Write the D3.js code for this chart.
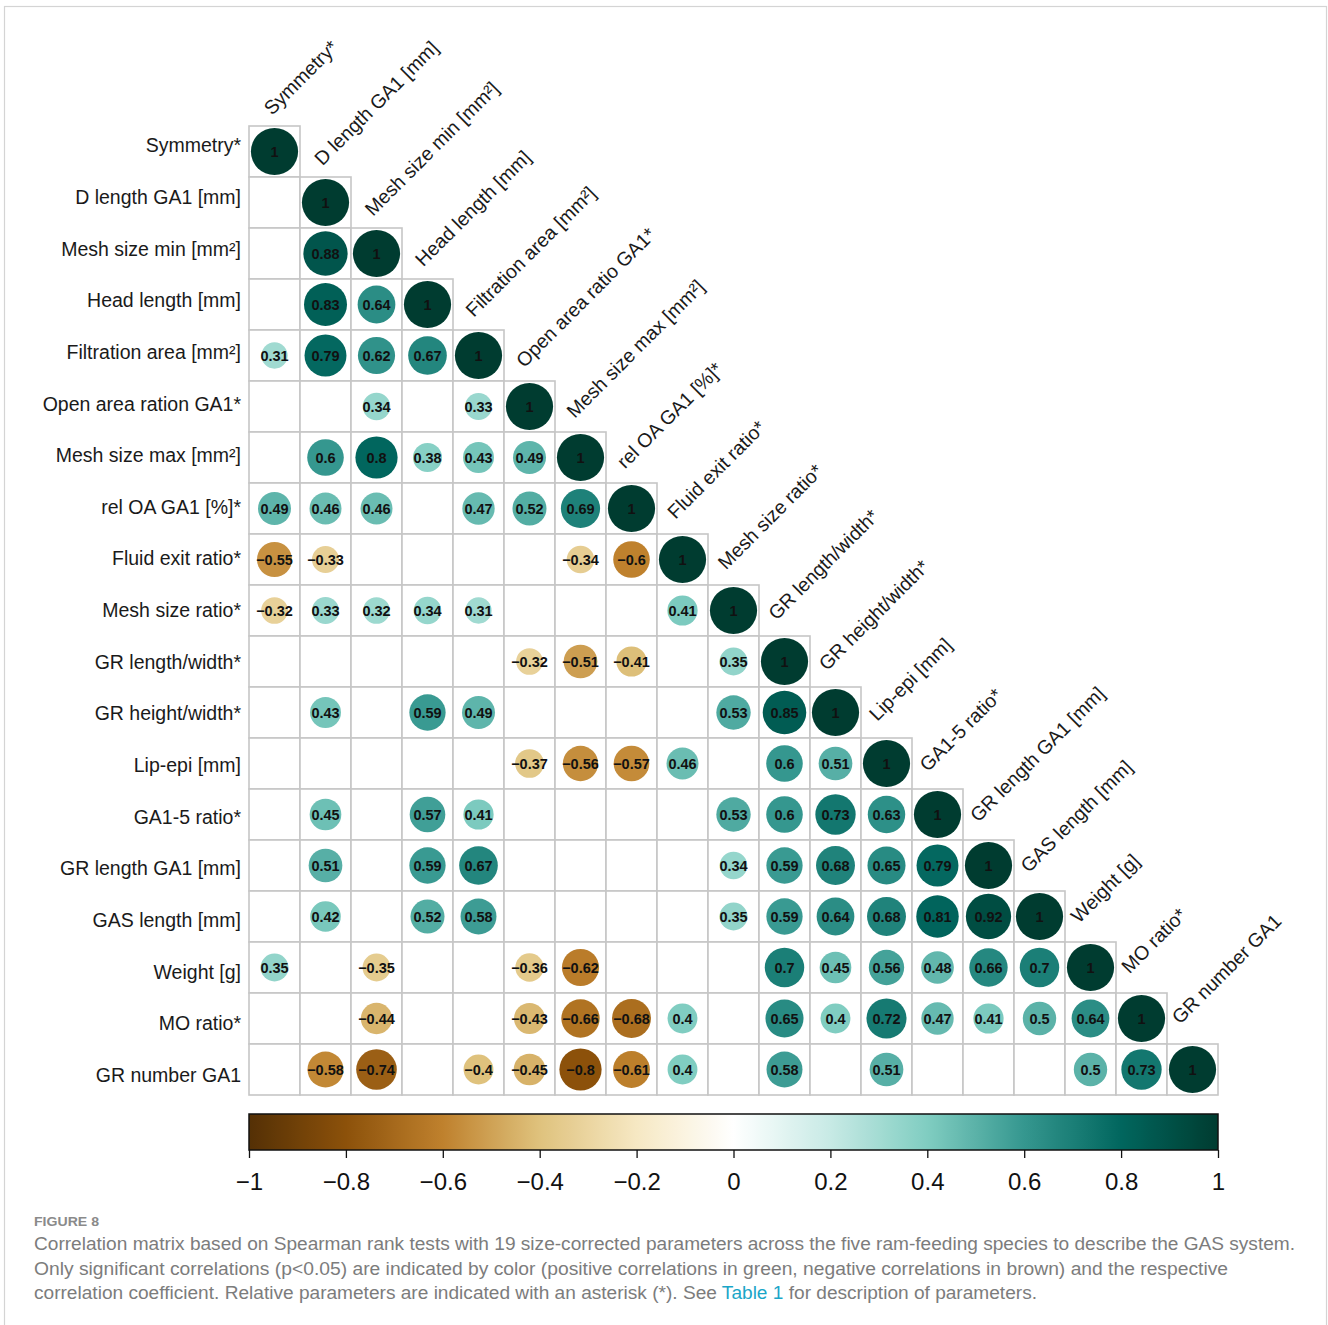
<!DOCTYPE html>
<html>
<head>
<meta charset="utf-8">
<script src="https://cdn.jsdelivr.net/npm/d3@7"></script>
<style>
  html, body { margin: 0; padding: 0; background: #fff; }
  svg { display: block; }
  text { font-family: "Liberation Sans", Arial, sans-serif; }
</style>
</head>
<body>
<svg id="chart" width="1328" height="1325"></svg>
<script>
// Parameter names (rows and columns of the correlation matrix)
const rowLabels = [
  "Symmetry*", "D length GA1 [mm]", "Mesh size min [mm²]", "Head length [mm]",
  "Filtration area [mm²]", "Open area ration GA1*", "Mesh size max [mm²]",
  "rel OA GA1 [%]*", "Fluid exit ratio*", "Mesh size ratio*", "GR length/width*",
  "GR height/width*", "Lip-epi [mm]", "GA1-5 ratio*", "GR length GA1 [mm]",
  "GAS length [mm]", "Weight [g]", "MO ratio*", "GR number GA1"
];
const colLabels = [
  "Symmetry*", "D length GA1 [mm]", "Mesh size min [mm²]", "Head length [mm]",
  "Filtration area [mm²]", "Open area ratio GA1*", "Mesh size max [mm²]",
  "rel OA GA1 [%]*", "Fluid exit ratio*", "Mesh size ratio*", "GR length/width*",
  "GR height/width*", "Lip-epi [mm]", "GA1-5 ratio*", "GR length GA1 [mm]",
  "GAS length [mm]", "Weight [g]", "MO ratio*", "GR number GA1"
];

// Significant Spearman coefficients, lower triangle; null = not significant
const corrRows = [
  [1],
  [null, 1],
  [null, 0.88, 1],
  [null, 0.83, 0.64, 1],
  [0.31, 0.79, 0.62, 0.67, 1],
  [null, null, 0.34, null, 0.33, 1],
  [null, 0.6, 0.8, 0.38, 0.43, 0.49, 1],
  [0.49, 0.46, 0.46, null, 0.47, 0.52, 0.69, 1],
  [-0.55, -0.33, null, null, null, null, -0.34, -0.6, 1],
  [-0.32, 0.33, 0.32, 0.34, 0.31, null, null, null, 0.41, 1],
  [null, null, null, null, null, -0.32, -0.51, -0.41, null, 0.35, 1],
  [null, 0.43, null, 0.59, 0.49, null, null, null, null, 0.53, 0.85, 1],
  [null, null, null, null, null, -0.37, -0.56, -0.57, 0.46, null, 0.6, 0.51, 1],
  [null, 0.45, null, 0.57, 0.41, null, null, null, null, 0.53, 0.6, 0.73, 0.63, 1],
  [null, 0.51, null, 0.59, 0.67, null, null, null, null, 0.34, 0.59, 0.68, 0.65, 0.79, 1],
  [null, 0.42, null, 0.52, 0.58, null, null, null, null, 0.35, 0.59, 0.64, 0.68, 0.81, 0.92, 1],
  [0.35, null, -0.35, null, null, -0.36, -0.62, null, null, null, 0.7, 0.45, 0.56, 0.48, 0.66, 0.7, 1],
  [null, null, -0.44, null, null, -0.43, -0.66, -0.68, 0.4, null, 0.65, 0.4, 0.72, 0.47, 0.41, 0.5, 0.64, 1],
  [null, -0.58, -0.74, null, -0.4, -0.45, -0.8, -0.61, 0.4, null, 0.58, null, 0.51, null, null, null, 0.5, 0.73, 1]
];

// Diverging brown–blue-green palette stops
const paletteStops = [-1, -0.8, -0.6, -0.4, -0.2, 0, 0.2, 0.4, 0.6, 0.8, 1];
const paletteColors = ["#543005", "#8C510A", "#BF812D", "#DFC27D", "#F6E8C3", "#FFFFFF",
                       "#C7EAE5", "#80CDC1", "#35978F", "#01665E", "#003C30"];
const colorbarTicks = [-1, -0.8, -0.6, -0.4, -0.2, 0, 0.2, 0.4, 0.6, 0.8, 1];

const captionTitle = "FIGURE 8";
const captionLines = [
  "Correlation matrix based on Spearman rank tests with 19 size-corrected parameters across the five ram-feeding species to describe the GAS system.",
  "Only significant correlations (p<0.05) are indicated by color (positive correlations in green, negative correlations in brown) and the respective",
  "correlation coefficient. Relative parameters are indicated with an asterisk (*). See "
];
const captionLink = "Table 1";
const captionTail = " for description of parameters.";

// ---------------------------------------------------------------
const svg = d3.select("#chart");
const n = rowLabels.length;

// outer panel frame
svg.append("rect")
  .attr("x", 4.5).attr("y", 6.5).attr("width", 1322).attr("height", 1340)
  .attr("fill", "none").attr("stroke", "#d4d4d4").attr("stroke-width", 1.2);

const gridLeft = 249, gridTop = 126, gridSize = 969;
const x = d3.scaleBand().domain(d3.range(n)).range([gridLeft, gridLeft + gridSize]);
const y = d3.scaleBand().domain(d3.range(n)).range([gridTop, gridTop + gridSize]);
const color = d3.scaleLinear().domain(paletteStops).range(paletteColors).clamp(true);
const radius = d3.scaleSqrt().domain([0, 1]).range([0, 23.6]);

// flatten lower triangle
const cells = [];
corrRows.forEach((row, i) => {
  row.forEach((v, j) => cells.push({ i, j, v }));
});

const g = svg.append("g");

// cell borders
g.selectAll("rect.cell")
  .data(cells)
  .join("rect")
  .attr("class", "cell")
  .attr("x", d => x(d.j))
  .attr("y", d => y(d.i))
  .attr("width", x.bandwidth())
  .attr("height", y.bandwidth())
  .attr("fill", "#fff")
  .attr("stroke", "#c6c6c6")
  .attr("stroke-width", 1.6);

const sig = cells.filter(d => d.v !== null);

g.selectAll("circle.corr")
  .data(sig)
  .join("circle")
  .attr("class", "corr")
  .attr("cx", d => x(d.j) + x.bandwidth() / 2)
  .attr("cy", d => y(d.i) + y.bandwidth() / 2)
  .attr("r", d => radius(Math.abs(d.v)))
  .attr("fill", d => color(d.v));

const fmt = v => d3.format("")(v);
g.selectAll("text.val")
  .data(sig)
  .join("text")
  .attr("class", "val")
  .attr("x", d => x(d.j) + x.bandwidth() / 2)
  .attr("y", d => y(d.i) + y.bandwidth() / 2)
  .attr("dy", "0.36em")
  .attr("text-anchor", "middle")
  .attr("font-size", 14.5)
  .attr("font-weight", "bold")
  .attr("fill", "#111")
  .text(d => fmt(d.v));

// row labels
const rowLabelY = d3.scaleLinear().domain([0, n - 1]).range([145.5, 1075]);
svg.append("g").selectAll("text")
  .data(rowLabels)
  .join("text")
  .attr("x", 241)
  .attr("y", (d, i) => rowLabelY(i))
  .attr("dy", "0.35em")
  .attr("text-anchor", "end")
  .attr("font-size", 19.5)
  .attr("fill", "#1a1a1a")
  .text(d => d);

// column labels along the diagonal, rotated
const colLabelX = d3.scaleLinear().domain([0, n - 1]).range([272, 1180]);
const colLabelY = d3.scaleLinear().domain([0, n - 1]).range([116, 1025]);
svg.append("g").selectAll("text")
  .data(colLabels)
  .join("text")
  .attr("transform", (d, j) => `translate(${colLabelX(j)},${colLabelY(j)}) rotate(-45)`)
  .attr("font-size", 19.5)
  .attr("fill", "#1a1a1a")
  .text(d => d);

// colour bar
const barTop = 1114, barH = 36;
const cb = d3.scaleLinear().domain([-1, 1]).range([gridLeft, gridLeft + gridSize]);
const defs = svg.append("defs");
const grad = defs.append("linearGradient").attr("id", "cbar")
  .attr("x1", "0%").attr("x2", "100%").attr("y1", "0%").attr("y2", "0%");
grad.selectAll("stop")
  .data(d3.range(0, 1.0001, 0.01))
  .join("stop")
  .attr("offset", t => `${t * 100}%`)
  .attr("stop-color", t => color(-1 + 2 * t));

svg.append("rect")
  .attr("x", cb(-1)).attr("y", barTop)
  .attr("width", cb(1) - cb(-1)).attr("height", barH)
  .attr("fill", "url(#cbar)")
  .attr("stroke", "#111").attr("stroke-width", 1.5);

const axis = d3.axisBottom(cb)
  .tickValues(colorbarTicks)
  .tickSize(8)
  .tickPadding(15)
  .tickFormat(d3.format(""));
const ax = svg.append("g")
  .attr("transform", `translate(0,${barTop + barH})`)
  .call(axis);
ax.select(".domain").remove();
ax.selectAll(".tick line").attr("stroke", "#111").attr("stroke-width", 1.3);
ax.selectAll(".tick text")
  .attr("font-family", "'Liberation Sans', Arial, sans-serif")
  .attr("font-size", 24)
  .attr("fill", "#111");

// caption
const cap = svg.append("g").attr("font-family", "'Open Sans', 'Noto Sans', sans-serif");
cap.append("text")
  .attr("x", 34).attr("y", 1226)
  .attr("font-size", 13.5)
  .attr("font-weight", 600)
  .attr("fill", "#8a8a8a")
  .attr("textLength", 65).attr("lengthAdjust", "spacingAndGlyphs")
  .text(captionTitle);

const lineEnds = [1295, 1228];
captionLines.slice(0, 2).forEach((line, k) => {
  cap.append("text")
    .attr("x", 34).attr("y", 1250 + k * 24.5)
    .attr("font-size", 17.5)
    .attr("fill", "#7c7c7c")
    .attr("textLength", lineEnds[k] - 34)
    .attr("lengthAdjust", "spacingAndGlyphs")
    .text(line);
});
const last = cap.append("text")
  .attr("x", 34).attr("y", 1299)
  .attr("font-size", 17.5)
  .attr("fill", "#7c7c7c")
  .attr("textLength", 1037 - 34)
  .attr("lengthAdjust", "spacingAndGlyphs");
last.append("tspan").text(captionLines[2]);
last.append("tspan").attr("fill", "#1aa6c8").text(captionLink);
last.append("tspan").text(captionTail);
</script>
</body>
</html>
